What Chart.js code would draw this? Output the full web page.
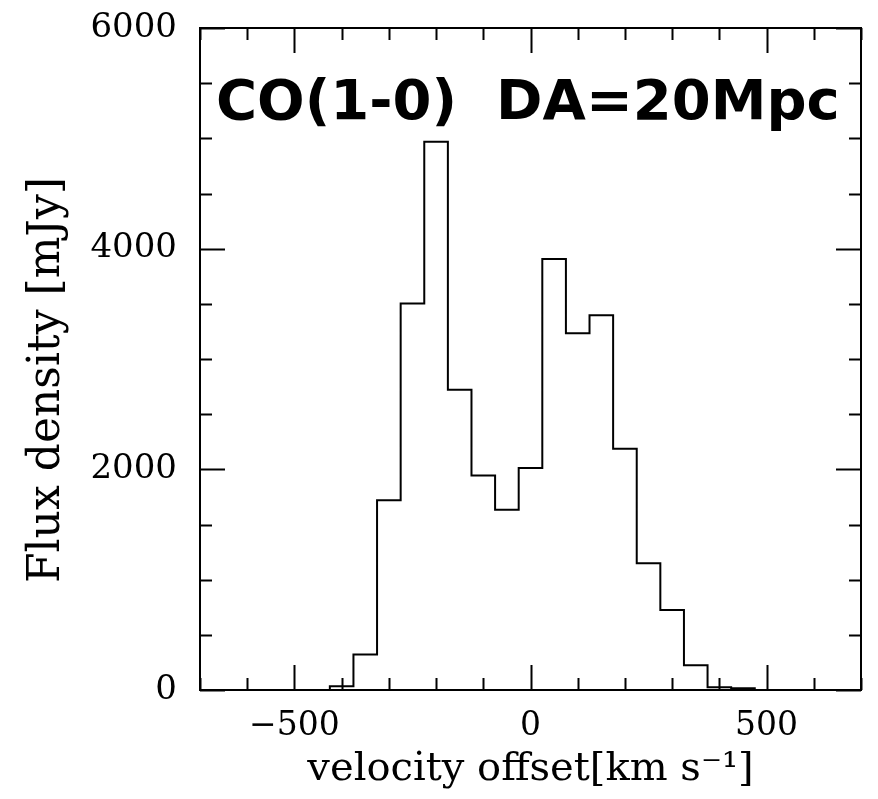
<!DOCTYPE html>
<html><head><meta charset="utf-8">
<script src="https://cdn.jsdelivr.net/npm/chart.js@4"></script>
<style>html,body{margin:0;padding:0;background:#fff;}</style>
</head><body>
<canvas id="c" width="878" height="799"></canvas>
<script>
// ---- data ----
const binCenters = [-650,-600,-550,-500,-450,-400,-350,-300,-250,-200,-150,-100,-50,0,50,100,150,200,250,300,350,400,450,500,550,600,650];
const flux       = [0,0,0,0,0,35,322,1720,3503,4968,2722,1945,1634,2012,3906,3234,3396,2186,1148,724,224,25,15,0,0,0,0];
const binWidth = 50;
const xTickValues = [-500, 0, 500];
const yTickValues = [0, 2000, 4000, 6000];
const xLimits = [-700, 700];
const yLimits = [0, 6000];
const xMinorStep = 100, xMajorStep = 500;
const yMinorStep = 500, yMajorStep = 2000;
const panelLabel = 'CO(1-0)  DA=20Mpc';
const xTitle = 'velocity offset[km s\u207B\u00B9]';
const yTitle = 'Flux density [mJy]';

// histogram as stepped line built from bins (left edge, value), plus closing right edge
const histPoints = binCenters.map((c, i) => ({x: c - binWidth/2, y: flux[i]}));
histPoints.push({x: binCenters[binCenters.length-1] + binWidth/2, y: flux[flux.length-1]});

const framePlugin = {
  id: 'frameTicks',
  afterDraw(chart) {
    const ctx = chart.ctx;
    const {left, right, top, bottom} = chart.chartArea;
    const xs = chart.scales.x, ys = chart.scales.y;
    ctx.save();
    ctx.strokeStyle = '#000';
    ctx.lineWidth = 2;
    ctx.strokeRect(left, top, right - left, bottom - top);
    ctx.beginPath();
    for (let v = Math.ceil(xLimits[0]/xMinorStep)*xMinorStep; v <= xLimits[1]; v += xMinorStep) {
      const px = Math.round(xs.getPixelForValue(v)) + 0.5;
      const len = (v % xMajorStep === 0) ? 25 : 12;
      ctx.moveTo(px, bottom); ctx.lineTo(px, bottom - len);
      ctx.moveTo(px, top); ctx.lineTo(px, top + len);
    }
    for (let v = yLimits[0]; v <= yLimits[1]; v += yMinorStep) {
      const py = Math.round(ys.getPixelForValue(v)) + 0.5;
      const len = (v % yMajorStep === 0) ? 25 : 12;
      ctx.moveTo(left, py); ctx.lineTo(left + len, py);
      ctx.moveTo(right, py); ctx.lineTo(right - len, py);
    }
    ctx.stroke();
    // panel label
    ctx.fillStyle = '#000';
    ctx.font = 'bold 56px "DejaVu Sans"';
    ctx.textBaseline = 'alphabetic';
    ctx.textAlign = 'left';
    ctx.fillText(panelLabel, left + 16, top + 91);
    ctx.restore();
  }
};

new Chart(document.getElementById('c'), {
  type: 'line',
  data: {
    datasets: [{
      data: histPoints,
      stepped: 'before',
      borderColor: '#000',
      borderWidth: 2,
      pointRadius: 0,
      fill: false
    }]
  },
  options: {
    responsive: false,
    animation: false,
    devicePixelRatio: 1,
    layout: {padding: {top: 28, right: 17, left: 0, bottom: 0}},
    plugins: {legend: {display: false}, tooltip: {enabled: false}},
    scales: {
      x: {
        type: 'linear',
        min: xLimits[0], max: xLimits[1],
        afterBuildTicks: s => { s.ticks = xTickValues.map(v => ({value: v})); },
        afterFit: s => { s.height = 109; s.paddingLeft = 0; s.paddingRight = 0; },
        grid: {display: false, drawTicks: false},
        border: {display: false},
        ticks: {
          color: '#000', padding: 17, maxRotation: 0, autoSkip: false,
          font: {family: '"DejaVu Serif"', size: 33},
          callback: v => String(v).replace('-', '\u2212')
        },
        title: {display: true, text: xTitle, color: '#000', font: {family: '"DejaVu Serif"', size: 40}, padding: {top: 0, bottom: 5}}
      },
      y: {
        type: 'linear',
        min: yLimits[0], max: yLimits[1],
        afterBuildTicks: s => { s.ticks = yTickValues.map(v => ({value: v})); },
        afterFit: s => { s.width = 200; s.paddingTop = 0; s.paddingBottom = 0; },
        grid: {display: false, drawTicks: false},
        border: {display: false},
        ticks: {
          color: '#000', padding: 23, autoSkip: false,
          font: {family: '"DejaVu Serif"', size: 34},
          callback: v => String(v)
        },
        title: {display: true, text: yTitle + '\u00A0\u00A0\u00A0', color: '#000', font: {family: '"DejaVu Serif"', size: 44}, padding: {top: 21, bottom: 0}}
      }
    }
  },
  plugins: [framePlugin]
});
</script>
</body></html>
